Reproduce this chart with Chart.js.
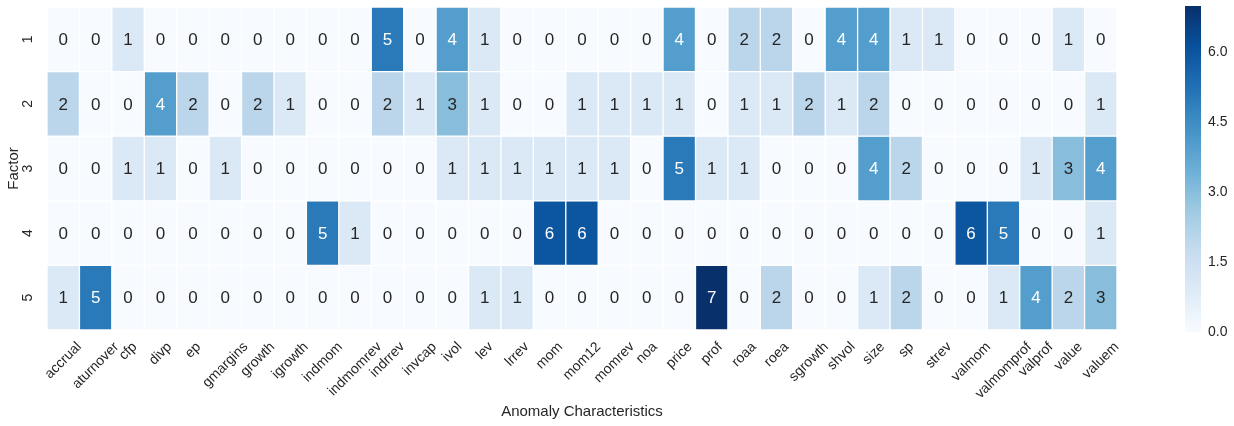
<!DOCTYPE html>
<html><head><meta charset="utf-8">
<script src="https://cdn.jsdelivr.net/npm/chart.js@4.4.0/dist/chart.umd.min.js"></script>
<style>
html,body{margin:0;padding:0;background:#fff;width:1234px;height:426px;overflow:hidden;}
#main{position:absolute;left:0;top:0;width:1160px;height:426px;}
#cbar{position:absolute;left:1170px;top:0;width:64px;height:426px;}
</style></head><body>
<div id="main"><canvas id="c1"></canvas></div>
<div id="cbar"><canvas id="c2"></canvas></div>
<script>
// ---- data ----
const characteristics = ['accrual','aturnover','cfp','divp','ep','gmargins','growth','igrowth','indmom','indmomrev','indrrev','invcap','ivol','lev','lrrev','mom','mom12','momrev','noa','price','prof','roaa','roea','sgrowth','shvol','size','sp','strev','valmom','valmomprof','valprof','value','valuem'];
const factors = [1, 2, 3, 4, 5];
const factor1 = [0,0,1,0,0,0,0,0,0,0,5,0,4,1,0,0,0,0,0,4,0,2,2,0,4,4,1,1,0,0,0,1,0];
const factor2 = [2,0,0,4,2,0,2,1,0,0,2,1,3,1,0,0,1,1,1,1,0,1,1,2,1,2,0,0,0,0,0,0,1];
const factor3 = [0,0,1,1,0,1,0,0,0,0,0,0,1,1,1,1,1,1,0,5,1,1,0,0,0,4,2,0,0,0,1,3,4];
const factor4 = [0,0,0,0,0,0,0,0,5,1,0,0,0,0,0,6,6,0,0,0,0,0,0,0,0,0,0,0,6,5,0,0,1];
const factor5 = [1,5,0,0,0,0,0,0,0,0,0,0,0,1,1,0,0,0,0,0,7,0,2,0,0,1,2,0,0,1,4,2,3];
const colorbarTicks = [0, 1.5, 3, 4.5, 6];
const vmin = 0, vmax = 7;
const rows = [factor1, factor2, factor3, factor4, factor5];

// ---- colormap (matplotlib Blues) ----
const blues = [[247,251,255],[222,235,247],[198,219,239],[158,202,225],[107,174,214],[66,146,198],[33,113,181],[8,81,156],[8,48,107]];
function cmapRGB(t){
  t = Math.max(0, Math.min(1, t));
  const p = t * (blues.length - 1);
  const i = Math.min(Math.floor(p), blues.length - 2);
  const f = p - i;
  return blues[i].map((c, k) => Math.round(c + (blues[i+1][k] - c) * f));
}
function rgbStr(c){ return `rgb(${c[0]},${c[1]},${c[2]})`; }
function colorFor(v){ return rgbStr(cmapRGB((v - vmin) / (vmax - vmin))); }
function luminance(c){
  const l = c.map(x => { x /= 255; return x <= 0.03928 ? x / 12.92 : Math.pow((x + 0.055) / 1.055, 2.4); });
  return 0.2126*l[0] + 0.7152*l[1] + 0.0722*l[2];
}
function textColorFor(v){ return luminance(cmapRGB((v - vmin) / (vmax - vmin))) > 0.408 ? '#262626' : '#ffffff'; }

const FONT = '"Liberation Sans", Arial, Helvetica, sans-serif';
Chart.defaults.font.family = FONT;
Chart.defaults.color = '#262626';

const datasets = factors.map((f, r) => ({
  label: 'Factor ' + f,
  data: characteristics.map(() => [f - 0.5, f + 0.5]),
  values: rows[r],
  backgroundColor: rows[r].map(colorFor),
  borderColor: '#ffffff',
  borderWidth: 1,
  borderSkipped: false,
  barPercentage: 1,
  categoryPercentage: 1,
  grouped: false
}));

const annotatePlugin = {
  id: 'annotate',
  afterDatasetsDraw(chart){
    const ctx = chart.ctx;
    ctx.save();
    ctx.font = '17px ' + FONT;
    ctx.textAlign = 'center';
    ctx.textBaseline = 'middle';
    chart.data.datasets.forEach((ds, di) => {
      const meta = chart.getDatasetMeta(di);
      meta.data.forEach((el, i) => {
        const v = ds.values[i];
        ctx.fillStyle = textColorFor(v);
        ctx.fillText(String(v), el.x, (el.y + el.base) / 2 + 1);
      });
    });
    ctx.restore();
  }
};

const xLabelPlugin = {
  id: 'xlabels',
  afterDraw(chart){
    const xs = chart.scales.x, ctx = chart.ctx;
    const top = chart.chartArea.bottom;
    ctx.save();
    ctx.font = '14px ' + FONT;
    ctx.fillStyle = '#262626';
    ctx.textAlign = 'center';
    ctx.textBaseline = 'middle';
    xs.getLabels().forEach((lab, i) => {
      const px = xs.getPixelForTick(i);
      const w = ctx.measureText(lab).width;
      const cy = top + 9 + (w + 16) * Math.SQRT1_2 / 2;
      ctx.save();
      ctx.translate(px, cy);
      ctx.rotate(-Math.PI / 4);
      ctx.fillText(lab, 0, 0);
      ctx.restore();
    });
    ctx.restore();
  }
};

new Chart(document.getElementById('c1'), {
  type: 'bar',
  data: { labels: characteristics, datasets },
  options: {
    responsive: true, maintainAspectRatio: false, animation: false, devicePixelRatio: 1,
    layout: { padding: { top: 7, right: 43, left: 0, bottom: 0 } },
    plugins: { legend: { display: false }, tooltip: { enabled: false } },
    scales: {
      x: {
        type: 'category',
        grid: { display: false, drawTicks: false },
        border: { display: false },
        ticks: { display: false },
        title: { display: true, text: 'Anomaly Characteristics', font: { size: 15 }, color: '#262626', padding: { top: 0, bottom: 5 } },
        afterFit(s){ s.height = 96; s.paddingLeft = 0; s.paddingRight = 0; }
      },
      y: {
        type: 'linear', min: 0.5, max: 5.5, reverse: true,
        afterBuildTicks(s){ s.ticks = factors.map(v => ({ value: v })); },
        grid: { display: false, drawTicks: false },
        border: { display: false },
        ticks: { minRotation: 90, maxRotation: 90, crossAlign: 'center', padding: 15, font: { size: 14 }, color: '#262626', callback: v => String(v) },
        title: { display: true, text: 'Factor', font: { size: 15 }, color: '#262626', padding: { top: 5, bottom: 0 } },
        afterFit(s){ s.width = 47; s.paddingTop = 0; s.paddingBottom = 0; }
      }
    }
  },
  plugins: [annotatePlugin, xLabelPlugin]
});

// ---- colorbar ----
new Chart(document.getElementById('c2'), {
  type: 'bar',
  data: { labels: ['cb'], datasets: [{
    data: [[vmin, vmax]],
    barPercentage: 1, categoryPercentage: 1, borderWidth: 0,
    backgroundColor(ctx){
      const ca = ctx.chart.chartArea;
      if (!ca) return colorFor(vmin);
      const g = ctx.chart.ctx.createLinearGradient(0, ca.bottom, 0, ca.top);
      for (let k = 0; k <= 32; k++) g.addColorStop(k / 32, rgbStr(cmapRGB(k / 32)));
      return g;
    }
  }] },
  options: {
    responsive: true, maintainAspectRatio: false, animation: false, devicePixelRatio: 1,
    layout: { padding: { top: 6, left: 15, right: 0, bottom: 94 } },
    plugins: { legend: { display: false }, tooltip: { enabled: false } },
    scales: {
      x: { display: false },
      y: {
        position: 'right', min: vmin, max: vmax,
        afterBuildTicks(s){ s.ticks = colorbarTicks.map(v => ({ value: v })); },
        grid: { display: false, drawTicks: false },
        border: { display: false },
        ticks: { padding: 7, font: { size: 14 }, color: '#262626', callback: v => Number(v).toFixed(1) },
        afterFit(s){ s.width = 33; s.paddingTop = 0; s.paddingBottom = 0; }
      }
    }
  }
});
</script>
</body></html>
